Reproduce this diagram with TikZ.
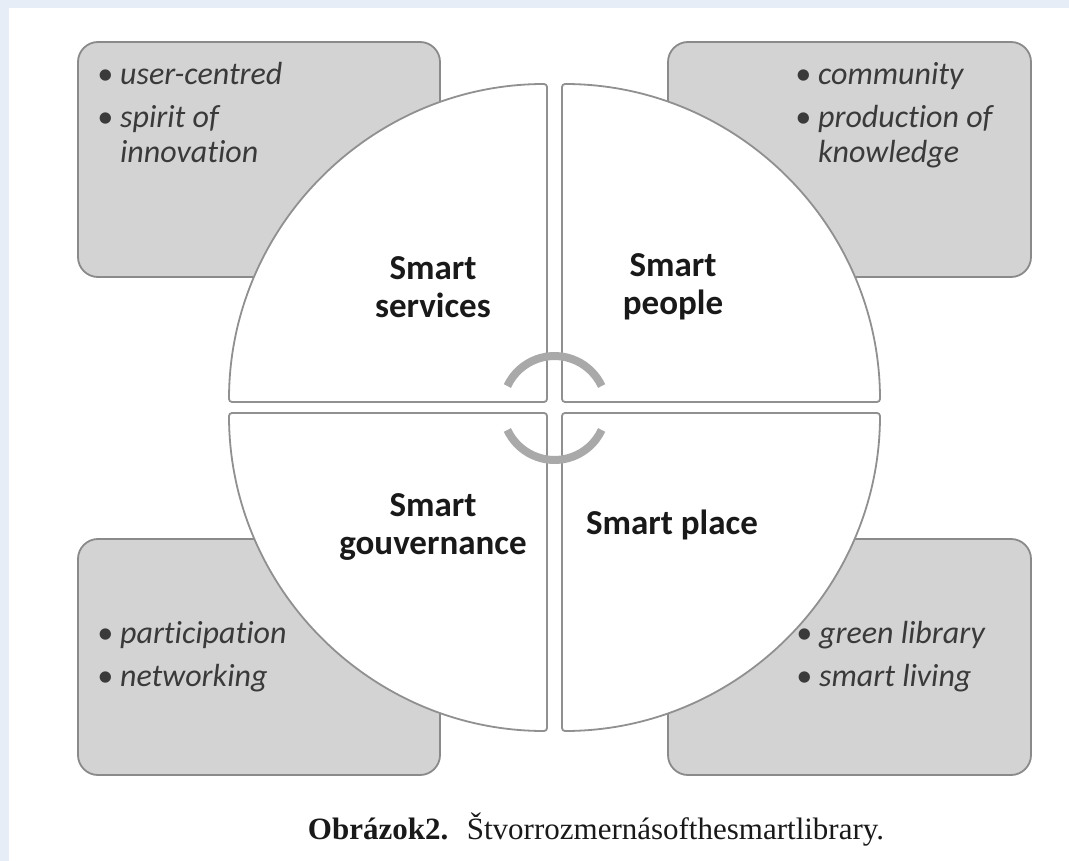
\documentclass[tikz,border=0pt]{standalone}
\usepackage{fontspec}
\setmainfont[RawFeature={-liga;-dlig;-clig}]{Carlito}
\newfontfamily\capfont{Liberation Serif}
\definecolor{bgband}{HTML}{E6EDF6}
\definecolor{boxfill}{HTML}{D3D3D3}
\definecolor{boxline}{HTML}{8A8A8A}
\definecolor{quadline}{HTML}{909090}
\definecolor{arcgray}{HTML}{A9A9A9}
\definecolor{bultext}{HTML}{3A3A3A}
\tikzset{
  sidebox/.style={fill=boxfill, draw=boxline, line width=1.8pt, rounded corners=20pt},
  quad/.style={fill=white, draw=quadline, line width=1.8pt, rounded corners=3pt},
  cyclearc/.style={draw=arcgray, line width=8pt},
  label/.style={font=\fontsize{35}{38}\selectfont\bfseries, text=black!90, align=center, inner sep=0pt},
  bullets/.style={font=\fontsize{32}{35}\selectfont\itshape, text=bultext, inner sep=0pt, anchor=north west},
}
\begin{document}
\begin{tikzpicture}[x=1pt,y=-1pt]
\useasboundingbox (0,0) rectangle (1069,861);
\fill[white] (0,0) rectangle (1069,861);
\fill[bgband] (0,0) rectangle (1069,8);
\fill[bgband] (0,0) rectangle (9,861);

% side boxes
\path[sidebox] (78,42) rectangle (440,277);
\path[sidebox] (668,42) rectangle (1031,277);
\path[sidebox] (78,539) rectangle (440,775);
\path[sidebox] (668,539) rectangle (1031,775);

% quadrants
\path[quad] (547,402) -- (229,402) arc[start angle=180,end angle=270,radius=318] -- cycle;
\path[quad] (562,402) -- (562,84) arc[start angle=270,end angle=360,radius=318] -- cycle;
\path[quad] (547,413) -- (547,731) arc[start angle=90,end angle=180,radius=318] -- cycle;
\path[quad] (562,413) -- (880,413) arc[start angle=0,end angle=90,radius=318] -- cycle;

% cycle arcs
\coordinate (ctr) at (554.5,408);
\draw[cyclearc] (ctr) ++(205:52) arc[start angle=205,end angle=335,radius=52];
\draw[cyclearc] (ctr) ++(25:52) arc[start angle=25,end angle=155,radius=52];

% quadrant labels
\node[label] (services) at (433,287) {Smart\\services};
\node[label] (people) at (673,287) {Smart\\people};
\node[label] (gouv) at (433,527) {Smart\\gouvernance};
\node[label] (place) at (672,525) {Smart place};

% bullet lists
\node[bullets] (tl) at (97,60) {\begin{tabular}{@{}l@{\hspace{7pt}}l@{}}\textbullet & user-centred\\[8pt] \textbullet & spirit of\\ & innovation\end{tabular}};
\node[bullets] (tr) at (795,60) {\begin{tabular}{@{}l@{\hspace{7pt}}l@{}}\textbullet & community\\[8pt] \textbullet & production of\\ & knowledge\end{tabular}};
\node[bullets] (bl) at (97,619) {\begin{tabular}{@{}l@{\hspace{7pt}}l@{}}\textbullet & participation\\[8pt] \textbullet & networking\end{tabular}};
\node[bullets] (br) at (796,619) {\begin{tabular}{@{}l@{\hspace{7pt}}l@{}}\textbullet & green library\\[8pt] \textbullet & smart living\end{tabular}};

% caption
\node[font=\capfont\fontsize{31}{34}\selectfont, inner sep=0pt, text=black!90] (caption) at (596,830) {\textbf{Obrázok2.}\hspace{0.6em}Štvorrozmernásofthesmartlibrary.};
\end{tikzpicture}
\end{document}
